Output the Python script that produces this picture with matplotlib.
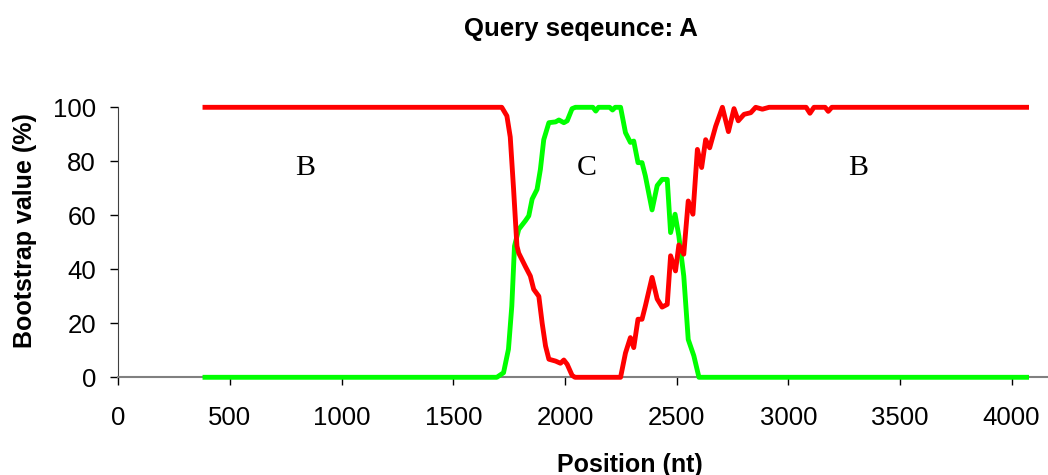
import matplotlib
matplotlib.use("Agg")
import matplotlib.pyplot as plt

# bootstrap values
pos_red = [388, 1717, 1740, 1755, 1770, 1785, 1793, 1823, 1845, 1860, 1883, 1898,
           1913, 1928, 1958, 1980, 1995, 2010, 2032, 2045, 2249, 2271, 2293, 2308,
           2327, 2345, 2360, 2390, 2413, 2435, 2458, 2473, 2495, 2510, 2532, 2552,
           2573, 2593, 2612, 2630, 2648, 2675, 2705, 2732, 2757, 2776, 2802, 2832,
           2854, 2884, 2914, 3080, 3097, 3115, 3165, 3179, 3195, 4067]
red = [100, 100, 96.8, 89, 69.6, 48.6, 46, 41, 37.5, 32.6, 30, 20,
       11.6, 6.7, 6, 5.2, 6.4, 4.8, 0.7, 0, 0, 9, 14.7, 11,
       21.5, 21.5, 26.4, 37, 29, 26, 27, 45, 39.4, 49, 45.6, 65.3,
       60.4, 84.4, 77.7, 88, 85, 93, 100, 91, 99.5, 95, 97.4, 98,
       100, 99.3, 100, 100, 97.8, 100, 100, 98.5, 100, 100]

pos_green = [388, 1695, 1725, 1747, 1762, 1774, 1793, 1823, 1838, 1853, 1875, 1890,
             1905, 1928, 1958, 1973, 1995, 2010, 2032, 2047, 2125, 2138, 2150, 2200,
             2213, 2225, 2249, 2271, 2293, 2308, 2327, 2345, 2360, 2390, 2413, 2435,
             2458, 2473, 2493, 2510, 2532, 2552, 2577, 2600, 4067]
green = [0, 0, 1.7, 10.4, 26.4, 48.6, 54.8, 58, 59.8, 66, 69.6, 77,
         88, 94.3, 94.6, 95.3, 94.3, 95, 99.5, 100, 100, 98.6, 100, 100,
         99, 100, 100, 90.6, 87, 87.5, 79.5, 79.5, 74.6, 62, 71, 73.3,
         73.3, 53.6, 60.4, 52.3, 37.5, 14, 8, 0, 0]

region_labels = ['B', 'C', 'B']
region_pos = [837, 2099, 3311]

xticks = [0, 500, 1000, 1500, 2000, 2500, 3000, 3500, 4000]
yticks = [0, 20, 40, 60, 80, 100]

plt.rcParams['font.family'] = ['Liberation Sans', 'DejaVu Sans']

fig = plt.figure(figsize=(10.48, 4.75), dpi=100)
ax = fig.add_axes([0.1129, 0.2057, 0.8871, 0.5684])

ax.plot(pos_green, green, color='#00ff00', lw=3.5, clip_on=False, zorder=3)
ax.plot(pos_red, red, color='#ff0000', lw=3.5, clip_on=False, zorder=4)

for lab, p in zip(region_labels, region_pos):
    ax.text(p, 77.5, lab, family='Liberation Serif', fontsize=21.5, ha='center', va='center')

ax.set_xlim(0, 4163)
ax.set_ylim(0, 100)
ax.set_xticks(xticks)
ax.set_yticks(yticks)
ax.tick_params(axis='x', direction='out', length=6, width=1, pad=15, labelsize=18.5)
ax.tick_params(axis='y', direction='out', length=6, width=1, pad=10, labelsize=18.5)

for s in ['top', 'right']:
    ax.spines[s].set_visible(False)
ax.spines['bottom'].set_color('#808080')
ax.spines['left'].set_color('#404040')
ax.spines['bottom'].set_linewidth(1.5)

fig.text(0.554, 0.938, 'Query seqeunce: A', fontsize=18.5, fontweight='bold',
         ha='center', va='center')
fig.text(0.601, 0.021, 'Position (nt)', fontsize=18, fontweight='bold',
         ha='center', va='center')
fig.text(0.024, 0.514, 'Bootstrap value (%)', fontsize=18, fontweight='bold',
         ha='center', va='center', rotation=90)

fig.savefig('out.png', dpi=100)
